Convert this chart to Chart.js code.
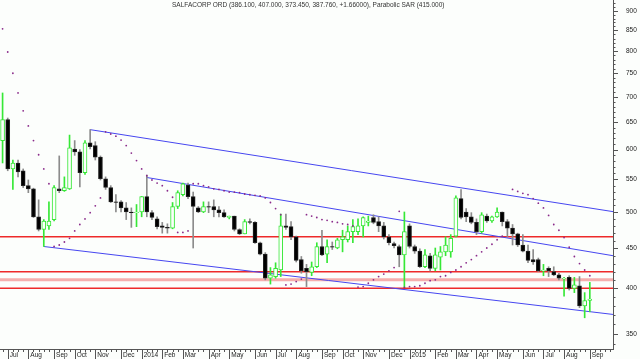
<!DOCTYPE html>
<html>
<head>
<meta charset="utf-8">
<script src="https://cdn.jsdelivr.net/npm/chart.js@4/dist/chart.umd.min.js"></script>
<style>
  html, body { margin: 0; padding: 0; background: #fcfefc; }
  #wrap { position: relative; width: 640px; height: 359px; overflow: hidden; }
  #title {
    position: absolute; left: 172px; top: 0px;
    font: 6.5px "Liberation Sans", Arial, sans-serif; color: #333;
    white-space: nowrap; line-height: 10px;
  }
</style>
</head>
<body>
<div id="wrap">
  <canvas id="chart" width="640" height="359"></canvas>
  <div id="title">SALFACORP ORD (386.100, 407.000, 373.450, 387.760, +1.66000), Parabolic SAR (415.000)</div>
</div>
<script>
// weekly candles, week 0 = last week of Jun 2013
var opens = [616, 655, 567, 577, 564, 540, 535, 493, 475, 480,
  489, 535, 532, 535, 601, 596, 561, 612, 607, 587,
  551, 537, 515, 515, 506, 500, 499, 500, 523, 499,
  490, 480, 478, 477, 508, 526, 541, 523, 506, 500,
  508, 508, 503, 499, 492, 494, 475, 469, 486, 485,
  457, 442, 412, 414, 422, 480, 479, 465, 435, 424,
  419, 426, 452, 442, 452, 450, 461, 461, 472, 472,
  480, 485, 492, 486, 480, 465, 456, 452, 441, 480,
  452, 446, 426, 440, 424, 438, 445, 445, 466, 520,
  500, 493, 485, 472, 494, 487, 493, 500, 486, 477,
  469, 454, 446, 435, 435, 421, 424, 420, 416, 411,
  413, 400, 403, 380, 386.1];
var highs = [708, 658, 582, 582, 567, 549, 536, 518, 489, 515,
  540, 589, 554, 626, 616, 600, 616, 636, 614, 589,
  554, 540, 526, 517, 514, 506, 511, 523, 557, 502,
  493, 485, 483, 514, 532, 544, 544, 530, 508, 515,
  515, 518, 508, 503, 494, 494, 476, 489, 490, 486,
  458, 444, 425, 431, 497, 497, 486, 466, 439, 429,
  432, 457, 474, 461, 458, 463, 474, 480, 489, 490,
  493, 494, 496, 493, 485, 468, 458, 454, 500, 483,
  454, 449, 448, 443, 450, 452, 465, 468, 524, 534,
  505, 499, 490, 499, 497, 494, 506, 500, 489, 482,
  470, 468, 454, 448, 437, 429, 426, 426, 418, 413,
  415, 413, 414, 395, 407];
var lows = [577, 564, 534, 554, 537, 529, 492, 473, 452, 475,
  487, 529, 531, 534, 590, 538, 558, 601, 582, 549,
  534, 514, 500, 500, 489, 478, 479, 493, 493, 489,
  476, 470, 470, 476, 505, 524, 520, 450, 499, 499,
  499, 493, 493, 492, 490, 473, 468, 469, 483, 456,
  441, 410, 405, 412, 414, 475, 461, 432, 418, 402,
  415, 425, 440, 431, 448, 449, 445, 458, 457, 468,
  465, 480, 483, 472, 462, 454, 450, 426, 401, 450,
  443, 425, 425, 421, 421, 422, 440, 438, 465, 490,
  486, 483, 468, 470, 485, 485, 492, 480, 465, 454,
  452, 445, 431, 429, 420, 415, 414, 415, 410, 391,
  398, 395, 378, 367, 373.45];
var closes = [655, 567, 577, 562, 540, 535, 493, 475, 487, 487,
  537, 532, 537, 603, 596, 561, 612, 605, 587, 551,
  537, 515, 514, 506, 500, 499, 500, 523, 500, 492,
  479, 478, 477, 508, 529, 543, 523, 508, 500, 508,
  507, 503, 499, 493, 494, 475, 469, 486, 485, 457,
  442, 412, 416, 424, 480, 478, 465, 434, 421, 420,
  426, 452, 441, 452, 451, 461, 465, 472, 479, 480,
  492, 487, 485, 480, 465, 457, 453, 441, 472, 452,
  446, 426, 441, 424, 441, 445, 454, 463, 521, 492,
  493, 485, 472, 496, 487, 493, 500, 486, 477, 469,
  454, 446, 434, 432, 421, 422, 421, 416, 412, 412,
  400, 404, 380, 386, 387.76];
var sar = [854, 798, 750, 708, 672, 643, 616, 591, 567, 543,
  452, 454, 458, 463, 473, 482, 490, 499, 509, 521,
  632, 628, 624, 617, 607, 594, 581, 567, 556, 549,
  544, 540, 532, 522, 471, 471, 473, 543, 543, 540,
  538, 535, 534, 532, 530, 530, 529, 527, 526, 525,
  524, 521, 514, 505, 496, 404, 405, 408, 411, 496,
  494, 492, 489, 488, 486, 485, 483, 482, 480, 401.5,
  402, 406, 410, 414, 417, 421, 425, 501, 401, 402,
  402, 403, 406, 409, 410, 414, 415, 419, 422, 426,
  431, 435, 440, 445, 450, 455, 461, 466, null, 534,
  531, 528, 526, 520, 513, 506, 495, 482, 474, 464,
  451, 439, 430, 422, 415];

var monthTicks = [1, 5, 10, 14, 18, 23, 27, 31, 35, 40, 44, 49, 53, 57,
  62, 66, 70, 75, 79, 84, 88, 92, 96, 101, 105, 109, 114];
var monthLabels = ['Jul', 'Aug', 'Sep', 'Oct', 'Nov', 'Dec', '2014', 'Feb', 'Mar', 'Apr', 'May', 'Jun', 'Jul', 'Aug',
  'Sep', 'Oct', 'Nov', 'Dec', '2015', 'Feb', 'Mar', 'Apr', 'May', 'Jun', 'Jul', 'Aug', 'Sep'];
var priceTicks = [350, 400, 450, 500, 550, 600, 650, 700, 750, 800, 850, 900];

var redLevels = [465, 420, 400];
var pinkLevel = 410;
var upperLine = [[17, 636], [118.5, 500.5]];
var middleLine = [[28, 553], [118.5, 440]];
var lowerLine = [[8, 452], [118.5, 370.6]];

var GREEN = '#36e836';
var FONT = '"Liberation Sans", Arial, sans-serif';

function isUp(i) { return closes[i] >= opens[i]; }
function toPts(seg) { return seg.map(function (p) { return { x: p[0], y: p[1] }; }); }
function hline(v) { return [{ x: -0.5, y: v }, { x: 118.5, y: v }]; }

var datasets = [];
redLevels.forEach(function (v) {
  datasets.push({ type: 'line', data: hline(v), borderColor: '#ee2a2a', borderWidth: 1.5,
    pointRadius: 0, fill: false, order: 4 });
});
datasets.push({ type: 'line', data: hline(pinkLevel), borderColor: 'rgba(240,120,120,0.6)', borderWidth: 3,
  pointRadius: 0, fill: false, order: 4 });
[upperLine, middleLine, lowerLine].forEach(function (seg) {
  datasets.push({ type: 'line', data: toPts(seg), borderColor: '#4646f0', borderWidth: 1,
    pointRadius: 0, fill: false, order: 3 });
});
datasets.push({
  type: 'bar',
  data: opens.map(function (o, i) { return { x: i, y: [lows[i], highs[i]] }; }),
  backgroundColor: function (c) { return isUp(c.dataIndex) ? GREEN : '#8c8c8c'; },
  barThickness: 1, grouped: false, order: 2
});
datasets.push({
  type: 'bar',
  data: opens.map(function (o, i) { return { x: i, y: [o, closes[i]] }; }),
  backgroundColor: function (c) { return isUp(c.dataIndex) ? '#fcfefc' : '#000000'; },
  borderColor: function (c) { return isUp(c.dataIndex) ? GREEN : '#222222'; },
  borderWidth: 1, borderSkipped: false, barThickness: 4, grouped: false, order: 1
});
datasets.push({
  type: 'line',
  data: sar.map(function (v, i) { return { x: i, y: v }; }),
  showLine: false, pointRadius: 0.9, pointBorderWidth: 0,
  pointBackgroundColor: '#8a2a8a', order: 0
});

var tickMarks = {
  id: 'tickMarks',
  afterDraw: function (chart) {
    var ctx = chart.ctx, xs = chart.scales.x, ys = chart.scales.y, a = chart.chartArea;
    ctx.save();
    ctx.strokeStyle = '#555';
    ctx.lineWidth = 1;
    ctx.beginPath();
    for (var i = 0; i <= 118; i++) {
      var px = Math.round(xs.getPixelForValue(i)) + 0.5;
      var len = monthTicks.indexOf(i) >= 0 ? 10 : 3;
      ctx.moveTo(px, a.bottom);
      ctx.lineTo(px, a.bottom + len);
    }
    for (var v = 340; v <= 920; v += 10) {
      var py = Math.round(ys.getPixelForValue(v)) + 0.5;
      ctx.moveTo(a.right, py);
      ctx.lineTo(a.right + (v % 50 === 0 ? 5 : 2.5), py);
    }
    ctx.stroke();
    ctx.restore();
  }
};

new Chart(document.getElementById('chart'), {
  type: 'bar',
  data: { datasets: datasets },
  plugins: [tickMarks],
  options: {
    responsive: false,
    animation: false,
    devicePixelRatio: 1,
    layout: { padding: 0, autoPadding: false },
    plugins: { legend: { display: false }, tooltip: { enabled: false } },
    scales: {
      x: {
        type: 'linear', position: 'bottom', min: -0.5, max: 118.5, offset: false,
        grid: { display: false, drawTicks: true, tickLength: 2 },
        border: { display: true, color: '#555' },
        afterBuildTicks: function (s) { s.ticks = monthTicks.map(function (v) { return { value: v }; }); },
        afterFit: function (s) { s.height = 10; s.paddingLeft = 0; s.paddingRight = 0; },
        ticks: {
          autoSkip: false, maxRotation: 0, align: 'start', padding: 0, labelOffset: 2,
          color: '#222', font: { size: 6.5, family: FONT },
          callback: function (v) { var k = monthTicks.indexOf(v); return k >= 0 ? monthLabels[k] : ''; }
        }
      },
      y: {
        type: 'logarithmic', position: 'right', min: 335, max: 929,
        grid: { display: false, drawTicks: true, tickLength: 13 },
        border: { display: true, color: '#555' },
        afterBuildTicks: function (s) { s.ticks = priceTicks.map(function (v) { return { value: v }; }); },
        afterFit: function (s) { s.width = 27; s.paddingTop = 0; s.paddingBottom = 0; },
        ticks: {
          padding: 0, color: '#222', font: { size: 6.5, family: FONT },
          callback: function (v) { return String(v); }
        }
      }
    }
  }
});
</script>
</body>
</html>
